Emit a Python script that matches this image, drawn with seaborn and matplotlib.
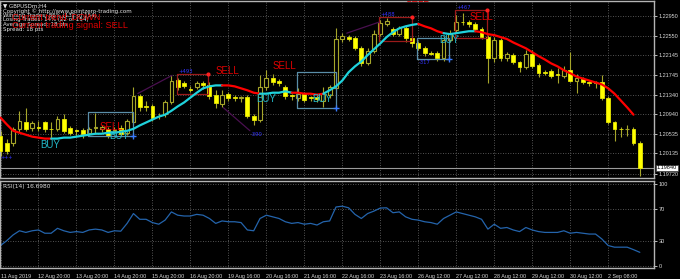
import numpy as np
import pandas as pd
import matplotlib
matplotlib.use("Agg")
import matplotlib.pyplot as plt
import seaborn as sns

sns.set_theme(style="dark")
plt.rcParams['font.family'] = ['DejaVu Sans']

# ---------------- data ----------------
opens = [1.2050, 1.2035, 1.2034, 1.2064, 1.2077, 1.2066, 1.2067, 1.2077, 1.2064, 1.2064,
         1.2085, 1.2066, 1.2061, 1.2062, 1.2056, 1.2066, 1.2064, 1.2064, 1.2060, 1.2066,
         1.2056, 1.2077, 1.2132, 1.2110, 1.2110, 1.2091, 1.2095, 1.2118, 1.2165, 1.2157,
         1.2145, 1.2149, 1.2157, 1.2153, 1.2134, 1.2114, 1.2136, 1.2129, 1.2128, 1.2130,
         1.2091, 1.2083, 1.2149, 1.2169, 1.2163, 1.2149, 1.2133, 1.2128, 1.2136, 1.2129,
         1.2129, 1.2122, 1.2134, 1.2147, 1.2248, 1.2252, 1.2250, 1.2229, 1.2198, 1.2223,
         1.2258, 1.2279, 1.2268, 1.2258, 1.2270, 1.2250, 1.2239, 1.2229, 1.2219, 1.2219,
         1.2209, 1.2246, 1.2266, 1.2283, 1.2283, 1.2279, 1.2268, 1.2252, 1.2209, 1.2246,
         1.2209, 1.2215, 1.2200, 1.2190, 1.2217, 1.2194, 1.2180, 1.2182, 1.2176, 1.2173,
         1.2184, 1.2163, 1.2167, 1.2159, 1.2157, 1.2159, 1.2128, 1.2077, 1.2064, 1.2063,
         1.2064, 1.2034]
highs = [1.2060, 1.2044, 1.2068, 1.2101, 1.2106, 1.2081, 1.2081, 1.2081, 1.2077, 1.2091,
         1.2095, 1.2070, 1.2064, 1.2066, 1.2068, 1.2097, 1.2072, 1.2068, 1.2068, 1.2072,
         1.2085, 1.2149, 1.2136, 1.2122, 1.2114, 1.2097, 1.2124, 1.2174, 1.2169, 1.2161,
         1.2151, 1.2161, 1.2161, 1.2159, 1.2143, 1.2143, 1.2140, 1.2134, 1.2132, 1.2134,
         1.2095, 1.2174, 1.2184, 1.2176, 1.2167, 1.2153, 1.2136, 1.2147, 1.2140, 1.2132,
         1.2134, 1.2149, 1.2153, 1.2270, 1.2260, 1.2256, 1.2254, 1.2233, 1.2229, 1.2266,
         1.2287, 1.2291, 1.2272, 1.2274, 1.2274, 1.2254, 1.2243, 1.2233, 1.2223, 1.2223,
         1.2254, 1.2266, 1.2297, 1.2301, 1.2287, 1.2283, 1.2272, 1.2256, 1.2252, 1.2250,
         1.2221, 1.2219, 1.2204, 1.2225, 1.2225, 1.2198, 1.2184, 1.2186, 1.2188, 1.2192,
         1.2221, 1.2176, 1.2171, 1.2163, 1.2163, 1.2174, 1.2132, 1.2081, 1.2068, 1.2072,
         1.2068, 1.2040]
lows = [1.2009, 1.2013, 1.2028, 1.2056, 1.2060, 1.2060, 1.2060, 1.2058, 1.2044, 1.2060,
        1.2056, 1.2052, 1.2050, 1.2046, 1.2052, 1.2056, 1.2058, 1.2046, 1.2056, 1.2050,
        1.2052, 1.2073, 1.2101, 1.2101, 1.2081, 1.2085, 1.2089, 1.2114, 1.2143, 1.2147,
        1.2140, 1.2145, 1.2145, 1.2126, 1.2106, 1.2108, 1.2122, 1.2122, 1.2118, 1.2087,
        1.2071, 1.2079, 1.2143, 1.2153, 1.2151, 1.2126, 1.2124, 1.2122, 1.2120, 1.2122,
        1.2120, 1.2108, 1.2128, 1.2143, 1.2241, 1.2243, 1.2225, 1.2192, 1.2194, 1.2219,
        1.2254, 1.2274, 1.2254, 1.2254, 1.2241, 1.2231, 1.2225, 1.2213, 1.2215, 1.2204,
        1.2204, 1.2241, 1.2262, 1.2276, 1.2272, 1.2264, 1.2248, 1.2157, 1.2200, 1.2204,
        1.2204, 1.2196, 1.2180, 1.2186, 1.2188, 1.2171, 1.2175, 1.2169, 1.2157, 1.2169,
        1.2159, 1.2138, 1.2155, 1.2151, 1.2147, 1.2124, 1.2073, 1.2040, 1.2048, 1.2050,
        1.2030, 1.1968]
closes = [1.2019, 1.2019, 1.2064, 1.2081, 1.2064, 1.2075, 1.2066, 1.2064, 1.2063, 1.2085,
          1.2060, 1.2056, 1.2060, 1.2054, 1.2064, 1.2067, 1.2068, 1.2050, 1.2062, 1.2054,
          1.2081, 1.2132, 1.2108, 1.2109, 1.2087, 1.2090, 1.2118, 1.2163, 1.2149, 1.2151,
          1.2144, 1.2157, 1.2153, 1.2132, 1.2116, 1.2134, 1.2128, 1.2128, 1.2129, 1.2091,
          1.2083, 1.2149, 1.2169, 1.2159, 1.2157, 1.2132, 1.2132, 1.2136, 1.2124, 1.2128,
          1.2126, 1.2136, 1.2149, 1.2248, 1.2254, 1.2248, 1.2229, 1.2198, 1.2223, 1.2258,
          1.2281, 1.2285, 1.2258, 1.2270, 1.2250, 1.2239, 1.2229, 1.2219, 1.2218, 1.2209,
          1.2246, 1.2260, 1.2283, 1.2282, 1.2279, 1.2268, 1.2252, 1.2209, 1.2246, 1.2209,
          1.2217, 1.2200, 1.2190, 1.2217, 1.2192, 1.2178, 1.2179, 1.2173, 1.2175, 1.2184,
          1.2163, 1.2169, 1.2159, 1.2158, 1.2160, 1.2128, 1.2077, 1.2064, 1.2063, 1.2064,
          1.2034, 1.1984]

trend_ma = [1.2087, 1.2073, 1.2060, 1.2056, 1.2052, 1.2048, 1.2046, 1.2044, 1.2044, 1.2044,
            1.2046, 1.2046, 1.2048, 1.2050, 1.2052, 1.2054, 1.2054, 1.2056, 1.2056, 1.2058,
            1.2060, 1.2064, 1.2071, 1.2077, 1.2083, 1.2089, 1.2093, 1.2101, 1.2110, 1.2118,
            1.2128, 1.2138, 1.2147, 1.2151, 1.2153, 1.2153, 1.2153, 1.2151, 1.2147, 1.2143,
            1.2138, 1.2136, 1.2136, 1.2138, 1.2138, 1.2141, 1.2138, 1.2138, 1.2136, 1.2136,
            1.2134, 1.2136, 1.2143, 1.2151, 1.2163, 1.2180, 1.2192, 1.2202, 1.2215, 1.2227,
            1.2239, 1.2252, 1.2262, 1.2270, 1.2274, 1.2277, 1.2279, 1.2274, 1.2270, 1.2264,
            1.2260, 1.2258, 1.2260, 1.2262, 1.2264, 1.2264, 1.2262, 1.2258, 1.2256, 1.2252,
            1.2248, 1.2241, 1.2235, 1.2229, 1.2221, 1.2213, 1.2206, 1.2198, 1.2192, 1.2184,
            1.2178, 1.2171, 1.2167, 1.2163, 1.2159, 1.2155, 1.2147, 1.2136, 1.2122, 1.2108,
            1.2093]
trend_starts = [0, 8, 35, 41, 46, 51, 66, 70, 75]
trend_dirs = ['down', 'up', 'down', 'up', 'down', 'up', 'down', 'up', 'down']

rsi = [25, 31, 38, 43, 41, 43, 44, 40, 40, 46, 43, 41, 42, 41, 44, 45, 44, 41, 43, 42.5,
       52, 64, 57, 57, 53, 51, 56, 66, 62, 61, 61, 63, 62, 58, 52, 55, 54, 54, 53, 44,
       43, 58, 62, 60, 58, 54, 52, 53, 51, 52, 50, 54, 55, 72, 73, 71, 63, 58, 64, 67,
       70.7, 71, 65, 66, 60, 57, 56, 54, 53, 51, 58, 62, 66, 64, 62, 60, 57, 45, 51, 46,
       47, 44, 42, 47, 44, 42, 41, 41, 41, 43, 40, 41, 40, 39, 39, 33, 25, 23, 23, 23,
       20, 16.698]

time_labels = ['11 Aug 2019', '12 Aug 20:00', '13 Aug 20:00', '14 Aug 20:00', '15 Aug 20:00',
               '16 Aug 20:00', '19 Aug 16:00', '20 Aug 16:00', '21 Aug 16:00', '22 Aug 16:00',
               '23 Aug 16:00', '26 Aug 12:00', '27 Aug 12:00', '28 Aug 12:00', '29 Aug 12:00',
               '30 Aug 12:00', '2 Sep 08:00']
label_bars = [0, 6, 12, 18, 24, 30, 36, 42, 48, 54, 60, 66, 72, 78, 84, 90, 96]

price_ticks = [1.22950, 1.22550, 1.22145, 1.21745, 1.21340, 1.20940, 1.20535, 1.20135, 1.19720]
price_tick_labels = ['1.22950', '1.22550', '1.22145', '1.21745', '1.21340', '1.20940',
                     '1.20535', '1.20135', '1.19720']
current_price = 1.19840
rsi_ticks = [0, 30, 70, 100]

# signals: (bar, price, text)
signal_bars = [7.8, 17.6, 18.7, 35.9, 44.9, 41.9, 50.8, 65.8, 70.9, 75.9]
signal_prices = [1.20313, 1.20684, 1.20499, 1.21817, 1.21920, 1.21261, 1.21261, 1.23300, 1.22456, 1.22929]
signal_texts = ['BUY', 'SELL', 'BUY', 'SELL', 'SELL', 'BUY', 'BUY', 'SELL', 'BUY', 'SELL']

# trade boxes
box_bar0 = [13.8, 27.9, 46.8, 59.8, 65.8, 71.8]
box_bar1 = [20.9, 32.8, 53.0, 65.0, 70.9, 76.9]
box_low = [1.20499, 1.21364, 1.21075, 1.22435, 1.22064, 1.22497]
box_high = [1.20993, 1.21755, 1.21796, 1.22929, 1.22497, 1.23074]
box_kind = ['buy', 'sell', 'buy', 'sell', 'buy', 'sell']
box_pips = ['', '+493', '', '+488', '-317', '+467']

diag_bar0 = [21.7, 35.2, 54.7]
diag_bar1 = [27.1, 39.4, 59.8]
diag_p0 = [1.21364, 1.21075, 1.22600]
diag_p1 = [1.21735, 1.20602, 1.22826]

# ---------------- figure ----------------
W, H = 680, 279
fig = plt.figure(figsize=(W / 100, H / 100), dpi=100, facecolor='black')

def frac(x0, y0, x1, y1):
    return [x0 / W, 1 - y1 / H, (x1 - x0) / W, (y1 - y0) / H]

ax = fig.add_axes(frac(0, 1, 654, 178))
axr = fig.add_axes(frac(0, 181, 654, 268))

grid_color = '#6e6e6e'
text_color = '#d8d8d8'
tick_font = ['Liberation Sans', 'DejaVu Sans']
for a in (ax, axr):
    a.set_facecolor('black')
    for s in a.spines.values():
        s.set_color('#b4b4b4')
        s.set_linewidth(1.0)

n = len(opens)
xs = np.arange(n)
df = pd.DataFrame({'x': xs, 'open': opens, 'high': highs, 'low': lows, 'close': closes})
bull = df[df['close'] >= df['open']]
bear = df[df['close'] < df['open']]

wick_color = '#a6a62a'
ax.vlines(df['x'], df['low'], df['high'], color=wick_color, lw=0.8, zorder=2)
min_h = 0.00004
ax.bar(bull['x'], np.maximum(bull['close'] - bull['open'], min_h), bottom=bull['open'],
       width=0.6, facecolor='black', edgecolor=wick_color, linewidth=0.8, zorder=3)
ax.bar(bear['x'], np.maximum(bear['open'] - bear['close'], min_h), bottom=bear['close'],
       width=0.6, facecolor='#ffff00', edgecolor='#e6e600', linewidth=0.6, zorder=3)

# trend MA line, coloured by trend segment
ma_df = pd.DataFrame({'x': np.arange(len(trend_ma)), 'ma': trend_ma})
ends = trend_starts[1:] + [len(trend_ma) - 1]
for s, e, d in zip(trend_starts, ends, trend_dirs):
    seg = ma_df.iloc[s:e + 1]
    sns.lineplot(data=seg, x='x', y='ma', ax=ax, color='#ff0000' if d == 'down' else '#1fd2dc',
                 lw=1.6, estimator=None, sort=False, zorder=5)

# trade boxes
for b0, b1, lo, hi, k, pip in zip(box_bar0, box_bar1, box_low, box_high, box_kind, box_pips):
    col = '#5a8ea8' if k == 'buy' else '#9a1a1a'
    ax.plot([b0, b1, b1, b0, b0], [lo, lo, hi, hi, lo], color=col, lw=0.9, zorder=4)
    if k == 'buy':
        ax.plot([b1], [lo], marker='+', color='#3a7bff', ms=4, mew=1, zorder=6)
    else:
        ax.plot([b1], [hi], marker='o', color='#ff2020', ms=2, zorder=6)
    if pip:
        yy = hi if k == 'sell' else lo
        va = 'bottom' if k == 'sell' else 'top'
        ax.text(b0 + 0.2, yy + (0.00005 if k == 'sell' else -0.00005), pip, color='#3434ff',
                fontsize=3.8, va=va, ha='left', zorder=6)

for b0, b1, p0, p1 in zip(diag_bar0, diag_bar1, diag_p0, diag_p1):
    ax.plot([b0, b1], [p0, p1], color='#4a1050', lw=0.9, zorder=4)
ax.text(39.5, 1.2057, '-390', color='#3434ff', fontsize=3.8, va='top', ha='left', zorder=6)
ax.text(0.0, 1.2010, '+++', color='#3434ff', fontsize=3.5, va='top', ha='left', zorder=6)

# BUY / SELL labels
for b, p, t in zip(signal_bars, signal_prices, signal_texts):
    col = '#22b8c8' if t == 'BUY' else '#e00000'
    ax.text(b, p, t, color=col, fontsize=7, ha='center', va='center',
            family=['Liberation Sans', 'DejaVu Sans'], zorder=7, clip_on=True)

# current price line
ax.axhline(current_price, color='#9a9a9a', lw=0.8, zorder=1)

ax.set_xlim(-0.08, 103.24)
ax.set_ylim(1.19633, 1.23259)
ax.set_yticks(price_ticks)
ax.set_yticklabels(price_tick_labels, family=tick_font)
ax.yaxis.tick_right()
ax.tick_params(axis='y', colors=text_color, labelsize=4.0, length=2, width=0.6, pad=1.5,
               labelcolor=text_color)
ax.set_xticks(label_bars)
ax.tick_params(axis='x', length=0, labelbottom=False)
ax.grid(True, color=grid_color, lw=0.6, linestyle=(0, (1, 2)))
ax.set_xlabel('')
ax.set_ylabel('')

ax.text(1.0045, current_price, '1.19840', transform=ax.get_yaxis_transform(), fontsize=4.0,
        color='black', va='center', ha='left', clip_on=False, zorder=10, family=tick_font,
        bbox=dict(boxstyle='square,pad=0.12', fc='white', ec='#404040', lw=0.5))

# RSI
rsi_df = pd.DataFrame({'x': np.arange(len(rsi)), 'rsi': rsi})
sns.lineplot(data=rsi_df, x='x', y='rsi', ax=axr, color='#2464ac', lw=0.9, estimator=None)
axr.set_xlim(-0.08, 103.24)
axr.set_ylim(-2.4, 103.7)
axr.set_yticks(rsi_ticks)
axr.set_yticklabels([str(v) for v in rsi_ticks], family=tick_font)
axr.yaxis.tick_right()
axr.tick_params(axis='y', colors=text_color, labelsize=4.0, length=2, width=0.6, pad=1.5)
axr.set_xticks(label_bars)
axr.set_xticklabels(time_labels, ha='left', family=tick_font)
axr.tick_params(axis='x', colors=text_color, labelsize=3.9, length=2, width=0.6, pad=2.5)
axr.grid(True, color=grid_color, lw=0.6, linestyle=(0, (1, 2)))
axr.set_xlabel('')
axr.set_ylabel('')
axr.text(0.004, 0.97, 'RSI(14) 16.6980', transform=axr.transAxes, fontsize=4.2,
         color=text_color, va='top', ha='left')

# header texts
small = ['\u25bc GBPUSDm,H4',
         'Copyright \u00a9 http://www.pointzero-trading.com',
         'Winning Trades: 86% (132 of 154)',
         'Losing Trades: 14% (22 of 154)',
         'Average Spread: 18 pts',
         'Spread: 18 pts']
ys = [5.5, 11, 15.5, 20, 24.5, 29]
for t, y in zip(small, ys):
    fig.text(3 / W, 1 - y / H, t, fontsize=4.0, color='#e8e8e8', va='center', ha='left')
fig.text(12 / W, 1 - 17 / H, 'Current trend: DOWN', fontsize=6.6, color='#e00000',
         va='center', ha='left', family=['Liberation Sans', 'DejaVu Sans'])
fig.text(12 / W, 1 - 25.5 / H, 'Current trading signal: SELL', fontsize=6.6, color='#e00000',
         va='center', ha='left', family=['Liberation Sans', 'DejaVu Sans'])

fig.savefig('out.png', dpi=100, facecolor='black')
